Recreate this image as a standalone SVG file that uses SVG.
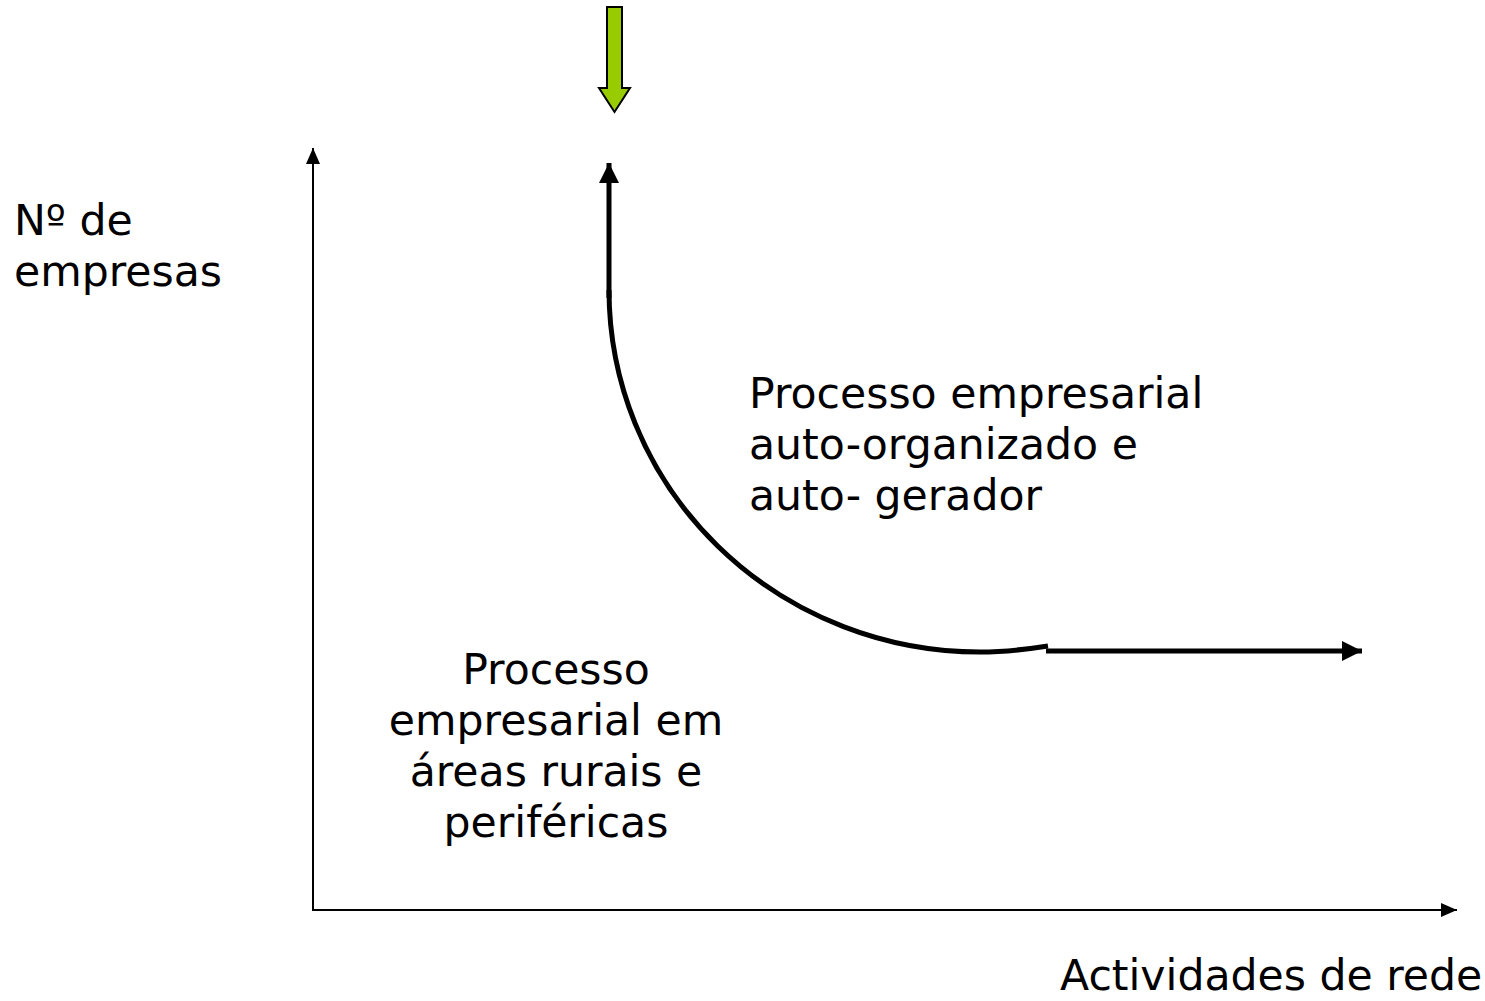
<svg xmlns="http://www.w3.org/2000/svg" width="1485" height="1001" viewBox="0 0 1485 1001">
<style>
text{font-family:"DejaVu Sans","Verdana",sans-serif;font-size:42.6px;fill:#000}
.axis{stroke:#000;stroke-width:2;fill:none}
.curve{stroke:#000;stroke-width:5;fill:none}
</style>
<defs>
<marker id="ah" markerWidth="16" markerHeight="16" refX="0" refY="0" viewBox="-16 -8 16 16" orient="auto" markerUnits="userSpaceOnUse">
<path d="M-16,-7 L0,0 L-16,7 Z" fill="#000"/>
</marker>
<marker id="ahb" markerWidth="20" markerHeight="20" refX="0" refY="0" viewBox="-20 -10 20 20" orient="auto" markerUnits="userSpaceOnUse">
<path d="M-20,-10 L0,0 L-20,10 Z" fill="#000"/>
</marker>
</defs>
<rect width="1485" height="1001" fill="#fff"/>
<g id="connectors">
<line class="axis" x1="313" y1="911" x2="313" y2="148" marker-end="url(#ah)"/>
<line class="axis" x1="312" y1="910" x2="1457" y2="910" marker-end="url(#ah)"/>
<line class="curve" x1="609" y1="298" x2="609" y2="163" marker-end="url(#ahb)"/>
<path class="curve" d="M609,290 A371,362 0 0 0 980,652 Q1010,652 1048,646"/>
<line class="curve" x1="1046" y1="651" x2="1362" y2="651" marker-end="url(#ahb)"/>
</g>
<g id="green-arrow">
<polygon points="607,7 622,7 622,88 630,88 614.5,112 599,88 607,88" fill="#99cc00" stroke="#000" stroke-width="2"/>
</g>
<g id="label-y">
<text x="14" y="235">Nº de</text>
<text x="14" y="286">empresas</text>
</g>
<g id="label-x">
<text x="1060" y="990" font-size="42.2">Actividades de rede</text>
</g>
<g id="label-auto">
<text x="749" y="408">Processo empresarial</text>
<text x="749" y="459">auto-organizado e</text>
<text x="749" y="510">auto- gerador</text>
</g>
<g id="label-rural" text-anchor="middle">
<text x="556" y="684">Processo</text>
<text x="556" y="735">empresarial em</text>
<text x="556" y="786">áreas rurais e</text>
<text x="556" y="837">periféricas</text>
</g>
</svg>
